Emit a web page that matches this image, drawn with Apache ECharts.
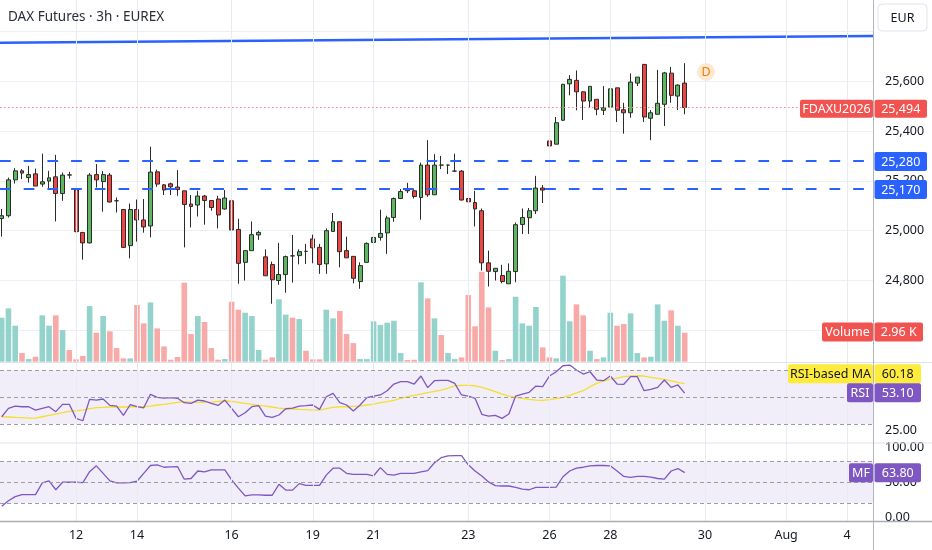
<!DOCTYPE html>
<html><head><meta charset="utf-8">
<script src="https://cdn.jsdelivr.net/npm/echarts@6/dist/echarts.min.js"></script>
<style>html,body{margin:0;padding:0;background:#fff}#c{width:932px;height:550px}</style>
</head><body><div id="c"></div>
<script>
// ---- data (3h bars, index 0..101) ----
const opens=[25049,25060,25204,25240,25213,25228,25187,25199,25216,25149,
25224,25163,24993,24951,25225,25197,25223,25120,25085,24940,
25085,25043,25019,25236,25184,25188,25175,25160,25107,25103,
25139,25121,25127,25087,25120,25005,24873,24920,24983,24895,
24864,24800,24824,24899,24900,24917,24967,24933,24867,24997,
25036,24920,24897,24796,24873,24953,24973,24991,25053,25129,
25169,25160,25133,25263,25144,25263,25263,25239,25239,25129,
25113,25080,24871,24836,24820,24787,24836,25025,25052,25080,
25171,25360,25347,25443,25589,25603,25557,25520,25527,25483,
25496,25573,25485,25473,25592,25667,25451,25467,25507,25632,
25540,25592];
const closes=[25060,25204,25240,25231,25225,25179,25196,25212,25149,25223,
25223,24996,24951,25223,25204,25225,25115,25120,24933,25085,
25043,25015,25235,25187,25163,25176,25165,25105,25097,25139,
25121,25093,25063,25131,25003,24869,24920,24984,24993,24819,
24803,24824,24896,24899,24916,24917,24931,24864,25000,25036,
24916,24891,24809,24860,24949,24973,24989,25051,25129,25157,
25160,25137,25263,25144,25263,25263,25263,25239,25123,25116,
25087,24871,24837,24849,24796,24837,25024,25053,25080,25171,
25163,25340,25433,25587,25607,25557,25520,25579,25487,25493,
25569,25483,25473,25596,25616,25456,25473,25511,25633,25543,
25584,25494];
const lows=[24976,25053,25189,25207,25193,25179,25176,25163,25037,25120,
25209,24994,24884,24949,25173,25076,25113,25073,24931,24889,
24956,24992,24973,25176,25143,25143,25140,24933,25013,25057,
25024,25080,25009,25084,24924,24787,24800,24920,24963,24819,
24707,24783,24751,24792,24865,24867,24869,24827,24827,24997,
24853,24891,24789,24767,24873,24913,24960,24907,25036,25127,
25151,25129,25044,25136,25143,25247,25227,25236,25121,24987,
25017,24840,24776,24800,24789,24787,24793,24987,24987,25067,
25111,25264,25347,25440,25543,25483,25444,25493,25463,25464,
25491,25436,25389,25453,25580,25436,25363,25467,25420,25513,
25484,25467];
const highs=[25087,25213,25251,25247,25260,25249,25309,25240,25304,25233,
25236,25165,24995,25231,25267,25239,25231,25133,25087,25109,
25125,25127,25337,25245,25187,25193,25243,25160,25143,25160,
25143,25121,25140,25163,25153,25048,24920,25037,25000,24925,
24876,24951,24900,24983,24925,24947,24984,24947,25009,25071,
25036,24976,24897,24873,24953,25027,25084,25060,25133,25167,
25192,25169,25273,25363,25307,25300,25265,25309,25243,25167,
25160,25089,24920,24849,24863,24869,25033,25089,25091,25220,
25183,25396,25456,25589,25624,25643,25560,25579,25527,25580,
25640,25573,25513,25631,25616,25669,25484,25645,25637,25657,
25587,25672];
const volumesK=[4.49,5.44,3.67,0.88,0.27,0.51,4.73,3.67,4.73,3.23,
1.19,0.24,0.58,5.68,2.96,4.66,3.10,1.39,0.34,0.34,
5.78,3.91,6.05,3.40,1.56,0.20,0.48,8.06,2.82,4.66,
4.05,1.39,0.20,0.27,6.12,5.31,5.00,4.66,1.19,0.20,
0.44,6.36,4.80,4.49,4.35,1.12,0.24,0.24,5.31,4.42,
5.17,2.82,1.90,0.27,0.27,4.12,3.74,3.98,4.18,0.88,
0.17,0.20,8.10,6.46,4.42,2.72,0.88,0.27,0.44,6.80,
3.61,9.18,5.54,1.12,0.17,0.27,6.63,3.91,3.67,5.58,
1.46,0.44,0.34,8.78,4.12,5.85,4.73,1.12,0.27,0.44,
5.00,3.67,3.84,4.93,0.88,0.44,0.51,5.85,4.18,5.24,
3.67,2.96];
const volumeUp=[1,1,1,0,1,0,1,1,0,1, 0,0,0,1,0,1,0,0,0,1,
0,0,1,0,0,0,0,0,0,1, 0,0,0,1,0,0,1,1,1,0,
0,1,1,0,1,0,0,0,1,1, 0,0,0,1,1,1,1,1,1,1,
0,0,1,0,1,0,1,1,0,0, 0,0,0,1,0,1,1,1,1,1,
0,0,1,1,1,0,0,1,0,1, 1,0,0,1,1,0,1,1,1,0, 1,0];
const rsi=[35.4,41.7,43.4,42.9,42.9,40.4,41.7,42.9,39.2,44.7,
44.7,34.2,32.4,48.4,47.9,48.7,43.9,43.4,36.4,44.4,
42.9,42.1,52.2,49.9,49.4,49.7,49.2,45.9,45.4,47.9,
47.2,45.4,43.9,47.9,41.7,35.4,38.4,42.9,43.7,35.9,
34.9,36.7,41.4,41.9,43.4,43.7,44.2,40.9,50.4,52.9,
45.9,44.2,39.7,44.2,49.7,50.9,51.7,54.9,59.9,61.7,
61.7,59.9,65.9,57.2,62.4,62.6,62.6,60.4,51.7,50.9,
49.2,37.2,35.9,36.4,34.2,37.4,50.9,52.4,53.7,58.4,
57.9,65.9,69.1,73.6,74.1,70.4,67.4,69.1,62.9,62.4,
65.9,59.9,59.7,65.4,65.4,54.9,55.9,57.4,62.9,57.4,
59.2,53.1];
const rsiMA=[35.4,35.2,34.9,34.7,34.4,34.4,35.4,36.4,37.4,38.4,
39.4,39.9,40.4,41.4,42.2,42.4,42.7,42.7,42.7,42.9,
42.9,42.9,43.4,44.2,44.7,45.4,46.2,46.7,46.4,46.2,
46.2,46.4,46.9,47.2,46.9,46.2,45.4,44.7,43.9,43.4,
42.7,41.9,41.4,41.2,40.9,40.7,40.4,40.4,41.4,42.4,
42.9,42.9,43.2,43.4,44.2,44.9,45.9,46.7,47.7,49.2,
50.4,51.4,52.4,53.4,54.4,55.4,56.9,58.6,58.9,58.9,
58.6,57.4,55.9,54.2,52.4,50.9,49.9,49.2,48.4,47.9,
47.7,48.2,48.9,49.9,51.4,53.2,54.9,57.9,60.4,62.2,
63.4,64.4,65.4,65.9,66.1,65.9,64.9,64.1,63.4,62.2,
61.1,60.18];
const moneyFlow=[15.6,23.4,29.3,32.3,32.3,32.3,49.0,52.0,39.2,50.0,
50.0,50.0,49.5,65.2,73.6,62.8,52.0,49.0,49.0,49.5,
51.5,62.8,74.1,75.1,71.6,72.1,72.6,54.4,55.4,66.2,
64.8,67.7,67.7,67.7,53.4,41.6,30.3,31.8,31.8,31.3,
31.3,47.0,38.7,38.7,48.0,45.6,45.6,45.6,60.3,70.2,
70.2,62.8,61.3,61.3,61.3,59.3,71.1,61.3,60.3,62.8,
62.8,62.8,64.8,66.7,78.0,85.4,87.9,88.4,88.4,75.1,
66.2,58.9,50.5,45.1,44.6,44.6,42.6,40.2,39.2,42.6,
42.6,42.6,43.1,57.9,66.2,70.2,71.6,73.6,74.1,74.1,
73.6,66.2,58.4,56.9,58.4,58.4,57.4,55.4,54.4,66.2,
69.7,63.8];
const dayTickIdx=[11,20,34,46,55,69,81,90,104,116,125];
const dayTickLabels=['12','14','16','19','21','23','26','28','30','Aug','4'];
const levelLines=[25280,25170];
const lastPrice=25494;
const trendIdx=[-1,129];
const trendVals=[25754,25781];
const rsiBands=[70,50,30];
const mfBands=[80,50,20];
const symbolName='FDAXU2026';
const titleText='DAX Futures · 3h · EUREX';

// ---- chart ----
const FONT='"Noto Sans", sans-serif';
const XMIN=-0.2514, XMAX=128.85;
const labelMap={}; dayTickIdx.forEach((v,i)=>labelMap[v]=dayTickLabels[i]);
const fmt=v=>v.toLocaleString('en-US');
const GREEN='#5cb860', RED='#ef4542', EDGE='#2b2b2b';
const grids=[
 {left:0,width:873,top:0,height:521.5},
 {left:0,width:873,top:-18.6,height:349},
 {left:0,width:873,top:263.7,height:98},
 {left:0,width:873,top:330.5,height:133.5},
 {left:0,width:873,top:447.5,height:69.5}
].map(g=>Object.assign(g,{containLabel:false,outerBoundsMode:'none'}));

const xAxis=grids.map((g,i)=>i===0?{
  type:'value',gridIndex:0,min:XMIN,max:XMAX,
  axisLine:{show:false},axisTick:{show:false},splitLine:{show:false},
  axisLabel:{customValues:dayTickIdx,formatter:v=>labelMap[v]||'',color:'#131722',fontSize:12.5,fontFamily:FONT,margin:7}
}:{type:'value',gridIndex:i,min:XMIN,max:XMAX,show:false});

const axLbl={color:'#131722',fontSize:12.5,fontFamily:FONT,margin:12};
const yAxis=[
 {type:'value',gridIndex:0,min:0,max:1,show:false},
 {type:'value',gridIndex:1,position:'right',min:24600,max:26000,interval:200,
  axisLine:{show:false},axisTick:{show:false},
  axisLabel:Object.assign({formatter:v=>(v>=24800&&v<=25600)?fmt(v):''},axLbl),
  splitLine:{lineStyle:{color:'#eceff4',width:1}}},
 {type:'value',gridIndex:2,min:0,max:10,show:false},
 {type:'value',gridIndex:3,position:'right',min:0,max:100,interval:25,
  axisLine:{show:false},axisTick:{show:false},splitLine:{show:false},
  axisLabel:Object.assign({formatter:v=>v===25?v.toFixed(2):''},axLbl)},
 {type:'value',gridIndex:4,position:'right',min:0,max:100,interval:50,
  axisLine:{show:false},axisTick:{show:false},splitLine:{show:false},
  axisLabel:Object.assign({formatter:v=>v.toFixed(2)},axLbl)}
];

const dashed={color:'#9a9da6',type:[4,3],width:1};
const bandFill={color:'rgba(126,87,194,0.10)'};
const series=[
 {type:'line',xAxisIndex:0,yAxisIndex:0,data:[],z:0,silent:true,
  markLine:{silent:true,symbol:['none','none'],label:{show:false},animation:false,
   lineStyle:{color:'#e8ecf2',type:'solid',width:1},
   data:dayTickIdx.map(v=>({xAxis:v}))}},
 {type:'bar',xAxisIndex:2,yAxisIndex:2,barWidth:5.6,z:1,silent:true,
  data:volumesK.map((v,i)=>({value:[i,v],itemStyle:{color:volumeUp[i]?'#93d3cc':'#f7aaa8'}}))},
 {type:'line',xAxisIndex:1,yAxisIndex:1,data:[],z:2,silent:true,
  markLine:{silent:true,symbol:['none','none'],label:{show:false},animation:false,
   lineStyle:{color:'#f4868d',type:[1.5,2.5],width:1},
   data:[{yAxis:lastPrice}]}},
 {type:'candlestick',xAxisIndex:1,yAxisIndex:1,barWidth:4.4,z:3,silent:true,
  encode:{x:0,y:[1,2,3,4]},
  data:opens.map((o,i)=>[i,o,closes[i],lows[i],highs[i]]),
  itemStyle:{color:GREEN,color0:RED,borderColor:EDGE,borderColor0:EDGE,borderColorDoji:EDGE,borderWidth:1},
  markLine:{silent:true,symbol:['none','none'],label:{show:false},animation:false,
   lineStyle:{color:'#2962ff',type:[10.7,13],width:2},
   data:levelLines.map(v=>({yAxis:v}))}},
 {type:'line',xAxisIndex:1,yAxisIndex:1,z:4,silent:true,symbol:'none',
  data:trendIdx.map((x,i)=>[x,trendVals[i]]),lineStyle:{color:'#2962ff',width:2.5}},
 {type:'line',xAxisIndex:3,yAxisIndex:3,z:3,silent:true,symbol:'none',
  data:rsi.map((v,i)=>[i,v]),lineStyle:{color:'#7e57c2',width:1.3},
  markArea:{silent:true,itemStyle:bandFill,data:[[{yAxis:30},{yAxis:70}]]},
  markLine:{silent:true,symbol:['none','none'],label:{show:false},lineStyle:dashed,
   data:rsiBands.map(v=>({yAxis:v}))}},
 {type:'line',xAxisIndex:3,yAxisIndex:3,z:2,silent:true,symbol:'none',
  data:rsiMA.map((v,i)=>[i,v]),lineStyle:{color:'#f5df2c',width:1.3}},
 {type:'line',xAxisIndex:4,yAxisIndex:4,z:3,silent:true,symbol:'none',
  data:moneyFlow.map((v,i)=>[i,v]),lineStyle:{color:'#7e57c2',width:1.3},
  markArea:{silent:true,itemStyle:bandFill,data:[[{yAxis:20},{yAxis:80}]]},
  markLine:{silent:true,symbol:['none','none'],label:{show:false},lineStyle:dashed,
   data:mfBands.map(v=>({yAxis:v}))}}
];

function txt(x,y,s,fill,size,align){
  return {type:'text',x:x,y:y,z:101,silent:true,
    style:{text:s,fill:fill,font:size+'px '+FONT,align:align||'center',verticalAlign:'middle',
      textAlign:align||'center',textVerticalAlign:'middle'}};
}
function box(x1,x2,yc,h,fill,s,col,stroke){
  const r={type:'rect',z:100,silent:true,shape:{x:x1,y:yc-h/2,width:x2-x1,height:h,r:2},style:{fill:fill}};
  if(stroke){r.style.stroke=stroke;r.style.lineWidth=1;r.shape.r=4;}
  return [r,txt((x1+x2)/2,yc+0.5,s,col,12.5)];
}
const last=a=>a[a.length-1];
const graphic=[
 {type:'line',z:99,silent:true,shape:{x1:0,y1:362.5,x2:932,y2:362.5},style:{stroke:'#e0e3eb',lineWidth:1}},
 {type:'line',z:99,silent:true,shape:{x1:0,y1:443,x2:932,y2:443},style:{stroke:'#e0e3eb',lineWidth:1}},
 {type:'line',z:99,silent:true,shape:{x1:0,y1:521.5,x2:932,y2:521.5},style:{stroke:'#a9acb5',lineWidth:1.5}},
 {type:'line',z:99,silent:true,shape:{x1:873.5,y1:0,x2:873.5,y2:550},style:{stroke:'#b2b5be',lineWidth:1}},
 txt(8,17,titleText,'#2a2e39',13.5,'left'),
 {type:'circle',z:100,silent:true,shape:{cx:706,cy:72,r:9},style:{fill:'#fde8d3'}},
 txt(706,72.5,'D','#f57c00',12.5),
 ...box(878,927,17.5,27,'#ffffff','EUR','#131722','#e0e3eb'),
 ...box(800,873,108.7,18,'#f05350',symbolName,'#ffffff'),
 ...box(874.5,927,108.7,18,'#f05350',fmt(lastPrice),'#ffffff'),
 ...box(874.5,927,161.5,19,'#2962ff',fmt(levelLines[0]),'#ffffff'),
 ...box(874.5,927,189.5,19,'#2962ff',fmt(levelLines[1]),'#ffffff'),
 ...box(822,873,332,19,'#f05350','Volume','#ffffff'),
 ...box(874.5,923,332,19,'#f05350',last(volumesK).toFixed(2)+' K','#ffffff'),
 ...box(788,873,373.7,19,'#ffeb3b','RSI-based MA','#131722'),
 ...box(874.5,921,373.7,19,'#ffeb3b',last(rsiMA).toFixed(2),'#131722'),
 ...box(847,873,392.7,19,'#7e57c2','RSI','#ffffff'),
 ...box(874.5,921,392.7,19,'#7e57c2',last(rsi).toFixed(2),'#ffffff'),
 ...box(849,873,472.8,19,'#7e57c2','MF','#ffffff'),
 ...box(874.5,921,472.8,19,'#7e57c2',last(moneyFlow).toFixed(2),'#ffffff')
];

const chart=echarts.init(document.getElementById('c'),null,{renderer:'canvas'});
chart.setOption({animation:false,backgroundColor:'#ffffff',grid:grids,xAxis:xAxis,yAxis:yAxis,series:series,graphic:{elements:graphic}});
</script></body></html>
